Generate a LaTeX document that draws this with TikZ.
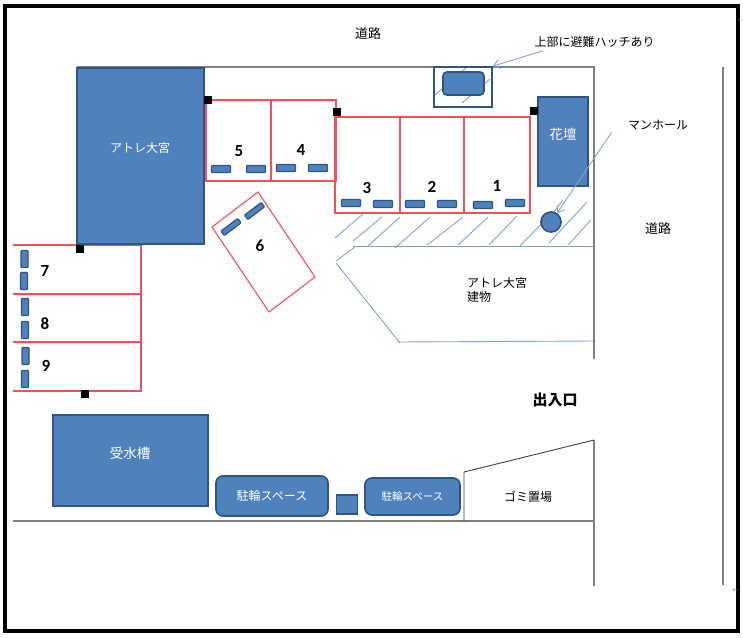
\documentclass[tikz,border=0pt]{standalone}
\usepackage{fontspec}
\usetikzlibrary{arrows.meta}
\setmainfont{Carlito}
\newfontfamily\jpfont{Noto Sans CJK JP}
\newfontfamily\markfont{DejaVu Sans}
\definecolor{boxblue}{HTML}{4F81BD}
\definecolor{boxline}{HTML}{2F5586}
\definecolor{lotred}{HTML}{F4505A}
\definecolor{thinblue}{HTML}{7FA3D0}
\definecolor{wallgray}{HTML}{7F7F7F}
\tikzset{
  >={Straight Barb[length=6pt,width=9pt]},
  bluebox/.style={draw=boxline,fill=boxblue,line width=1.7pt,inner sep=0pt,text=white,font=\jpfont\fontsize{12}{14}\selectfont},
  roundbox/.style={bluebox,rounded corners=7pt},
  car/.style={draw=boxline,fill=boxblue,line width=1.2pt,rounded corners=0.8pt,inner sep=0pt},
  post/.style={fill=black,inner sep=0pt,minimum size=8pt},
  lot/.style={draw=lotred,line width=1.1pt},
  thin line/.style={draw=thinblue,line width=0.9pt},
  wall/.style={draw=wallgray,line width=2.3pt},
  note/.style={font=\jpfont\fontsize{12}{14}\selectfont,inner sep=0pt},
  num/.style={font=\bfseries\fontsize{17}{19}\selectfont,inner sep=0pt}
}
\begin{document}
\begin{tikzpicture}[x=1pt,y=-1pt]
  \useasboundingbox (0,0) rectangle (743,637);
  \draw[line width=3.5pt] (5,6) rectangle (738,631);
  % hatching in front of the building
  \foreach \xa/\ya/\xb/\yb in {335/238/363/214,353/241/382/217,368/246/400/217,395/248/430/217,
      427/245/463/217,458/245/488/217,489/245/517/216,519/247/551/214,549/243/587/202,568/245/591/220,553/213/563/200}
    \draw[thin line] (\xa,\ya) -- (\xb,\yb);
  % building outline
  \draw[thin line] (353,246) -- (594,246);
  \draw[thin line] (355,247) -- (336,261);
  \draw[thin line] (336,263) -- (400,343);
  \draw[thin line] (398,342) -- (594,341);
  % walls and road lines
  \draw[wall] (77,67) -- (594,67) -- (594,359);
  \draw[wall] (723,67) -- (723,585);
  \draw[wall] (13,521) -- (594,521);
  \draw[wall] (594,440) -- (594,586);
  \draw[line width=0.9pt,draw=black!75] (464,521) -- (464,472) -- (594,440);
  % parking lots
  \draw[lot] (206,100) rectangle (336,181);
  \draw[lot] (271,100) -- (271,181);
  \draw[lot] (335,117) rectangle (530,213);
  \foreach \x in {400,464}
    \draw[lot] (\x,117) -- (\x,213);
  \draw[lot] (13,245) -- (141,245) -- (141,391) -- (13,391);
  \foreach \y in {294,342}
    \draw[lot] (13,\y) -- (141,\y);
  \draw[lot] (258,192) -- (212,227) -- (269,312) -- (315,277) -- cycle;
  % cars
  \foreach \n/\x/\y in {a/221/169,b/256/169,c/286/168,d/318/168,e/351/203,f/383/204,g/415/204,h/447/204,i/483/205,j/515/203}
    \node[car,minimum width=19pt,minimum height=7pt] (car\n) at (\x,\y) {};
  \foreach \n/\x/\y in {k/24.5/259,l/24/281,m/25/307,n/25/330,o/25.5/356,p/25/379}
    \node[car,minimum width=7pt,minimum height=17pt] (car\n) at (\x,\y) {};
  \foreach \n/\x/\y in {q/231/227,r/254.5/211}
    \node[car,minimum width=21pt,minimum height=5.5pt,rotate=37] (car\n) at (\x,\y) {};
  % blue blocks
  \node[bluebox,minimum width=127pt,minimum height=176pt] (atre) at (140.5,156) {};
  \node[note,text=white] (atrelabel) at (140,148) {アトレ大宮};
  \node[bluebox,minimum width=50pt,minimum height=89pt] (flowerbed) at (563,141.5) {};
  \node[note,text=white,font=\jpfont\fontsize{13.5}{15}\selectfont] (flowerlabel) at (563,134) {花壇};
  \node[bluebox,minimum width=155pt,minimum height=91pt] (tank) at (130.5,460.5) {};
  \node[note,text=white,font=\jpfont\fontsize{13.5}{15}\selectfont] (tanklabel) at (130,453) {受水槽};
  \node[roundbox,minimum width=112pt,minimum height=40pt] (bikeleft) at (272,496) {駐輪スペース};
  \node[bluebox,minimum width=21pt,minimum height=19pt] (smallbox) at (347,504.5) {};
  \node[roundbox,minimum width=95pt,minimum height=37pt,font=\jpfont\fontsize{10.5}{12}\selectfont] (bikeright) at (412.5,496.5) {駐輪スペース};
  \node[bluebox,circle,minimum size=20pt] (manhole) at (551,222) {};
  % hatch
  \draw[thin line] (435,95) -- (467,67);
  \draw[thin line] (462,103) -- (490,79);
  \node[draw=boxline,line width=1.8pt,minimum width=58pt,minimum height=40pt,inner sep=0pt] (hatchbox) at (463,87) {};
  \node[roundbox,rounded corners=4pt,minimum width=41pt,minimum height=23pt] (hatch) at (463.5,83.5) {};
  % posts
  \foreach \n/\x/\y in {a/208/100,b/337/112,c/534/111,d/80/248.5,e/85/394}
    \node[post] (post\n) at (\x,\y) {};
  % numbers
  \foreach \t/\x/\y in {1/497/186,2/432/187,3/367/188,4/301/150,5/239/151,6/260/246,7/45/271,8/45/324,9/46/366}
    \node[num] (num\t) at (\x,\y) {\t};
  % labels
  \node[note,font=\jpfont\fontsize{13}{15}\selectfont] (roadtop) at (368,34) {道路};
  \node[note,font=\jpfont\fontsize{13}{15}\selectfont] (roadright) at (658,229) {道路};
  \node[note] (hatchnote) at (594.5,42) {上部に避難ハッチあり};
  \node[note] (mannote) at (658,125) {マンホール};
  \node[note,align=left,anchor=north west] (buildnote) at (467,277) {アトレ大宮\\建物};
  \node[note,font=\jpfont\bfseries\fontsize{15}{17}\selectfont] (gate) at (555,400) {出入口};
  \node[note] (trash) at (528,497) {ゴミ置場};
  \node[font=\markfont\fontsize{5}{6}\selectfont,text=black!45,inner sep=0pt,anchor=east] (marka) at (743,20) {←};
  \node[font=\markfont\fontsize{7}{8}\selectfont,text=black!45,inner sep=0pt] (markb) at (735,591) {←};
  % leaders
  \draw[thin line,->] ([xshift=9pt,yshift=-3pt]hatchnote.south west) -- (hatchbox.north east);
  \draw[thin line,->] ([xshift=-16pt,yshift=-2pt]mannote.south west) -- (manhole);
\end{tikzpicture}
\end{document}
